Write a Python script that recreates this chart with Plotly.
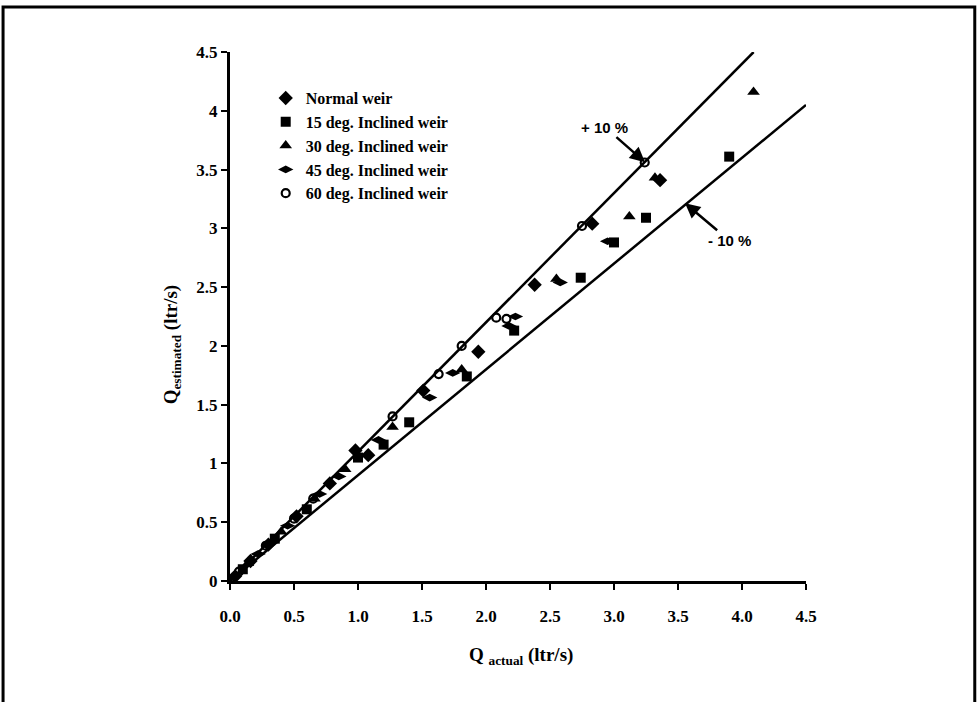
import plotly.graph_objects as go

# ---------------- data ----------------
normal_x = [0.04, 0.16, 0.30, 0.52, 0.78, 0.98, 1.08, 1.51, 1.94, 2.38, 2.83, 3.36]
normal_y = [0.04, 0.17, 0.31, 0.55, 0.83, 1.11, 1.07, 1.62, 1.95, 2.52, 3.04, 3.41]

deg15_x = [0.10, 0.35, 0.60, 1.00, 1.20, 1.40, 1.85, 2.22, 2.74, 3.00, 3.25, 3.90]
deg15_y = [0.10, 0.36, 0.61, 1.05, 1.16, 1.35, 1.74, 2.13, 2.58, 2.88, 3.09, 3.61]

deg30_x = [0.14, 0.40, 0.66, 0.90, 1.27, 1.81, 2.55, 3.12, 3.32, 4.09]
deg30_y = [0.15, 0.42, 0.70, 0.95, 1.31, 1.80, 2.57, 3.10, 3.43, 4.16]

deg45_x = [0.22, 0.45, 0.70, 0.85, 1.16, 1.56, 1.74, 2.18, 2.23, 2.58, 2.95]
deg45_y = [0.23, 0.47, 0.74, 0.89, 1.20, 1.56, 1.77, 2.17, 2.25, 2.54, 2.89]

deg60_x = [0.07, 0.28, 0.50, 0.65, 1.27, 1.63, 1.81, 2.08, 2.16, 2.75, 3.24]
deg60_y = [0.08, 0.30, 0.53, 0.70, 1.40, 1.76, 2.00, 2.24, 2.23, 3.02, 3.56]

# +/-10 % error bounds
plus_x = [0.0, 4.5 / 1.1]
plus_y = [0.0, 4.5]
minus_x = [0.0, 4.5]
minus_y = [0.0, 4.5 * 0.9]

plus_label_pt = (3.242, 3.563)
minus_label_pt = (3.555, 3.214)

x_ticks = [0.0, 0.5, 1.0, 1.5, 2.0, 2.5, 3.0, 3.5, 4.0, 4.5]
y_ticks = [0, 0.5, 1, 1.5, 2, 2.5, 3, 3.5, 4, 4.5]

serif = "Liberation Serif"
sans = "Liberation Sans"

fig = go.Figure()

fig.add_trace(go.Scatter(x=plus_x, y=plus_y, mode="lines",
                         line=dict(color="black", width=2.5), showlegend=False, hoverinfo="skip"))
fig.add_trace(go.Scatter(x=minus_x, y=minus_y, mode="lines",
                         line=dict(color="black", width=2.5), showlegend=False, hoverinfo="skip"))

series = [
    ("Normal weir", normal_x, normal_y, dict(symbol="diamond", size=11, color="black")),
    ("15 deg. Inclined weir", deg15_x, deg15_y, dict(symbol="square", size=10, color="black")),
    ("30 deg. Inclined weir", deg30_x, deg30_y, dict(symbol="triangle-up", size=11, color="black")),
    ("45 deg. Inclined weir", deg45_x, deg45_y, dict(symbol="diamond-wide", size=11, color="black")),
    ("60 deg. Inclined weir", deg60_x, deg60_y, dict(symbol="circle-open", size=8, color="black",
                                                      line=dict(width=2.2, color="black"))),
]
for name, xs, ys, mk in series:
    fig.add_trace(go.Scatter(x=xs, y=ys, mode="markers", name="<b>" + name + "</b>", marker=mk))

fig.add_annotation(x=plus_label_pt[0], y=plus_label_pt[1], text="<b>+ 10 %</b>",
                   showarrow=True, ax=-40, ay=-35, arrowhead=2, arrowsize=1.2, arrowwidth=2.5,
                   arrowcolor="black", font=dict(family=sans, size=15, color="black"))
fig.add_annotation(x=minus_label_pt[0], y=minus_label_pt[1], text="<b>- 10 %</b>",
                   showarrow=True, ax=44, ay=37, arrowhead=2, arrowsize=1.2, arrowwidth=2.5,
                   arrowcolor="black", font=dict(family=sans, size=15, color="black"))

# axis titles
fig.add_annotation(xref="paper", yref="paper", x=0.505, y=-0.141, yanchor="middle",
                   text="<b>Q <sub>actual</sub> (ltr/s)</b>", showarrow=False,
                   font=dict(family=serif, size=19, color="black"))
fig.add_annotation(xref="paper", yref="paper", x=-0.101, y=0.447, xanchor="center", yanchor="middle",
                   textangle=-90, text="<b>Q<sub>estimated</sub> (ltr/s)</b>", showarrow=False,
                   font=dict(family=serif, size=19, color="black"))

# outer frame
fig.add_shape(type="rect", xref="paper", yref="paper", x0=-0.394, x1=1.293, y0=-0.27, y1=1.085,
              line=dict(color="black", width=3), fillcolor="rgba(0,0,0,0)", layer="above")

fig.update_xaxes(range=[0, 4.5], tickvals=x_ticks, ticktext=[f"<b>{v:.1f}</b>" for v in x_ticks],
                 showgrid=False, zeroline=False, showline=True, linecolor="black", linewidth=3,
                 ticks="outside", ticklen=6, tickwidth=2, tickcolor="black",
                 ticklabelstandoff=12,
                 tickfont=dict(family=serif, size=17, color="black"))
fig.update_yaxes(range=[0, 4.5], tickvals=y_ticks, ticktext=[f"<b>{v:g}</b>" for v in y_ticks],
                 showgrid=False, zeroline=False, showline=True, linecolor="black", linewidth=3,
                 ticks="outside", ticklen=6, tickwidth=2, tickcolor="black",
                 tickfont=dict(family=serif, size=17, color="black"))

fig.update_layout(
    width=978, height=702,
    margin=dict(l=230, r=172, t=52, b=121),
    paper_bgcolor="white", plot_bgcolor="white",
    showlegend=True,
    legend=dict(x=0.062, y=0.945, xanchor="left", yanchor="top",
                bgcolor="rgba(0,0,0,0)", borderwidth=0,
                font=dict(family=serif, size=16, color="black"),
                itemwidth=30),
    font=dict(family=serif, color="black"),
)

fig.write_html("out.html")
